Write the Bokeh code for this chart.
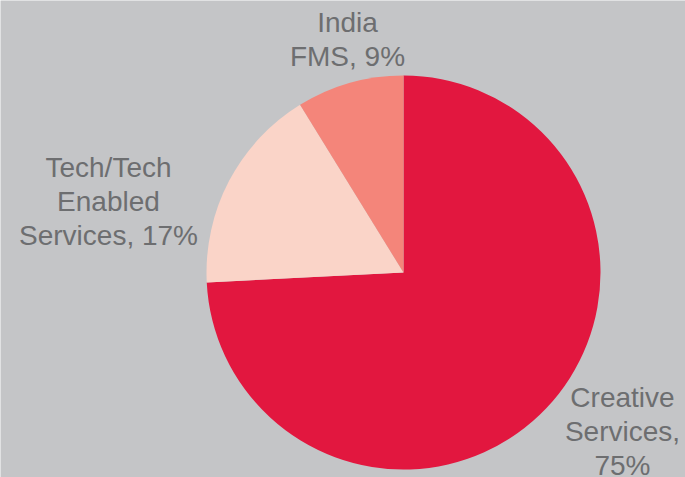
import math
from bokeh.plotting import figure
from bokeh.models import Range1d, ColumnDataSource
from bokeh.embed import file_html
from bokeh.resources import INLINE
from bokeh.core.properties import value

# Data
categories = ["Creative Services", "Tech/Tech Enabled Services", "India FMS"]
shares = [74.2, 17.0, 8.8]
label_texts = ["Creative\nServices,\n75%", "Tech/Tech\nEnabled\nServices, 17%", "India\nFMS, 9%"]
colors = ["#e2173f", "#fad4c8", "#f4857a"]

W, H = 685, 477
BG = "#c4c5c7"

p = figure(width=W, height=H, output_backend="svg", toolbar_location=None,
           x_range=Range1d(0, W), y_range=Range1d(H, 0), min_border=0)
p.background_fill_color = BG
p.border_fill_color = BG
p.outline_line_color = None
p.axis.visible = False
p.grid.visible = False

# Angles: start at 12 o'clock, go clockwise on screen
total = sum(shares)
starts, ends = [], []
cum = 0.0
for s in shares:
    a_hi = math.pi / 2 - 2 * math.pi * cum / total
    cum += s
    a_lo = math.pi / 2 - 2 * math.pi * cum / total
    starts.append(a_lo)
    ends.append(a_hi)

cx, cy, r = 403, 272, 197
src = ColumnDataSource(dict(cat=categories, start=starts, end=ends, color=colors))
p.wedge(x=cx, y=cy, radius=r, start_angle="start", end_angle="end",
        fill_color="color", line_color=None, source=src)

lx = [622, 108, 347]
ly = [381, 151, 6]
lsrc = ColumnDataSource(dict(x=lx, y=ly, t=label_texts))
p.text(x="x", y="y", text="t", source=lsrc, text_align="center", text_baseline="top",
       text_font=value("Liberation Sans"), text_font_size="28px", text_color="#6d6e70",
       text_line_height=1.1)

open("out.html", "w").write(file_html(p, INLINE))
